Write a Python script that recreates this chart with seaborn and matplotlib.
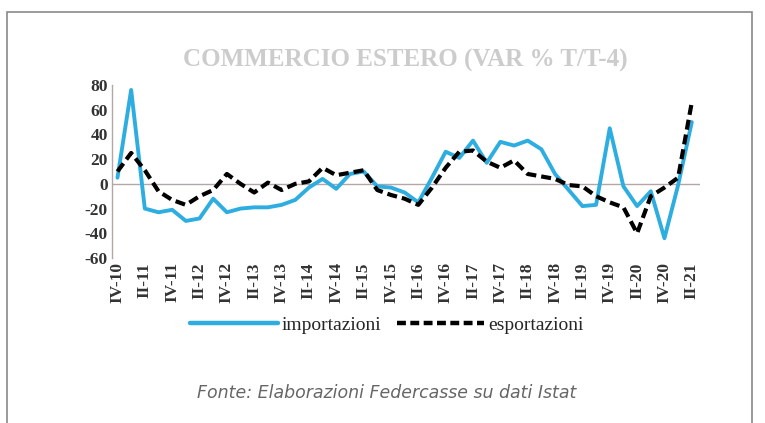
import pandas as pd
import matplotlib.pyplot as plt
import seaborn as sns
from matplotlib.patches import Rectangle
from matplotlib.lines import Line2D

# quarters from IV-10 to II-21
quarters = []
for y in range(10, 22):
    for q in ['I', 'II', 'III', 'IV']:
        quarters.append(f'{q}-{y}')
quarters = quarters[quarters.index('IV-10'):quarters.index('II-21') + 1]

importazioni = [5, 76, -20, -23, -21, -30, -28, -12, -23, -20,
                -19, -19, -17, -13, -3, 4, -4, 8, 10, -2,
                -3, -7, -15, 5, 26, 21, 35, 17, 34, 31,
                35, 28, 8, -5, -18, -17, 45, -2, -18, -6,
                -44, -1, 50]
esportazioni = [10, 25, 11, -6, -13, -17, -10, -5, 8, 0,
                -7, 1, -5, 0, 2, 13, 7, 9, 11, -5,
                -9, -12, -17, -3, 13, 26, 27, 18, 13, 19,
                8, 6, 4, -1, -2, -10, -15, -19, -40, -10,
                -3, 5, 66]

df = pd.DataFrame({'pos': range(len(quarters)), 'trimestre': quarters,
                   'importazioni': importazioni, 'esportazioni': esportazioni})

sns.set_style('white')
plt.rcParams['axes.unicode_minus'] = False
serif = ['Liberation Serif', 'DejaVu Serif']

fig = plt.figure(figsize=(7.65, 4.23), dpi=100)
ax = fig.add_axes([112 / 765, 1 - 258 / 423, 588 / 765, 173 / 423])

blue = '#2eaee0'
sns.lineplot(data=df, x='pos', y='importazioni', color=blue, linewidth=2.8, ax=ax)
sns.lineplot(data=df, x='pos', y='esportazioni', color='black', linewidth=3,
             linestyle=(0, (2.4, 1.2)), ax=ax)
ax.axhline(0, color='#b5a5a5', linewidth=1, zorder=0)

ax.set_xlim(-0.4, 42.6)
ax.set_ylim(-60, 80)
ax.set_yticks(range(-60, 81, 20))
ax.set_xticks(range(0, len(quarters), 2))
ax.set_xticklabels(quarters[::2], rotation=90)
ax.set_xlabel('')
ax.set_ylabel('')
for lab in ax.get_xticklabels() + ax.get_yticklabels():
    lab.set_family(serif)
    lab.set_fontweight('bold')
    lab.set_fontsize(12.5)
    lab.set_color('#333333')
ax.tick_params(axis='both', length=0, pad=3)
for s in ['top', 'right', 'bottom']:
    ax.spines[s].set_visible(False)
ax.spines['left'].set_color('#b5a5a5')
ax.spines['left'].set_linewidth(1)

# legend below the plot
handles = [Line2D([], [], color=blue, linewidth=3.2),
           Line2D([], [], color='black', linewidth=3.2, linestyle=(0, (2, 1)))]
fig.legend(handles, ['importazioni', 'esportazioni'], loc='center',
           bbox_to_anchor=(387 / 765, 1 - 325 / 423), ncol=2, frameon=False,
           prop={'family': serif, 'size': 14}, handlelength=4.5,
           handletextpad=0.2, columnspacing=0.8)

fig.text(405 / 765, 1 - 60 / 423, 'COMMERCIO ESTERO (VAR % T/T-4)',
         ha='center', va='center', fontsize=18, fontweight='bold', color='#cccccc',
         family=serif)
fig.text(387 / 765, 1 - 393 / 423, 'Fonte: Elaborazioni Federcasse su dati Istat',
         ha='center', va='center', fontsize=12.5, style='italic', color='#666666')

fig.patches.append(Rectangle((7 / 765, -0.1), 745 / 765, 1.1 - 12 / 423,
                             transform=fig.transFigure, fill=False,
                             edgecolor='#8a8a8a', linewidth=1.2))

fig.savefig('out.png', dpi=100)
